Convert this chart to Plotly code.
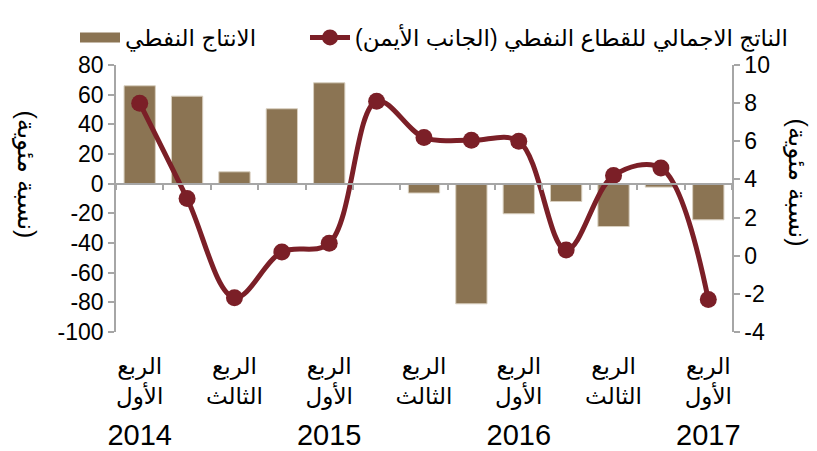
import plotly.graph_objects as go

quarters = list(range(13))
oil_production = [66, 59, 8, 50.5, 68, 0, -6.3, -81, -20.3, -12, -28.9, -2.3, -24.4]
oil_gdp = [8.0, 3.0, -2.2, 0.2, 0.65, 8.1, 6.2, 6.05, 6.0, 0.3, 4.2, 4.6, -2.3]

q_tickvals = [0, 2, 4, 6, 8, 10, 12]
q_ticktext = ["الربع<br>الأول", "الربع<br>الثالث", "الربع<br>الأول", "الربع<br>الثالث",
              "الربع<br>الأول", "الربع<br>الثالث", "الربع<br>الأول"]
year_tickvals = [0, 4, 8, 12]
year_ticktext = ["2014", "2015", "2016", "2017"]
boundary_vals = [i - 0.5 for i in range(14)]

left_vals = [80, 60, 40, 20, 0, -20, -40, -60, -80, -100]
right_vals = [10, 8, 6, 4, 2, 0, -2, -4]

name_bar = "الانتاج النفطي"
name_line = "الناتج الاجمالي للقطاع النفطي (الجانب الأيمن)"
axis_title = "(نسبة مئوية)"

BAR = "#8B7453"
LINE = "#7B1F27"
GRAY = "#A6A6A6"
FONT = "Liberation Sans, DejaVu Sans, Arial, sans-serif"

# the page body has an 8px default margin, so the figure is sized/placed to compensate
W, H = 809, 443
ML, MR, MT, MB = 108, 85, 57, 119
PW = W - ML - MR
PH = H - MT - MB

fig = go.Figure()
fig.add_trace(go.Bar(x=quarters, y=oil_production, name=name_bar, showlegend=False,
                     marker=dict(color=BAR, line=dict(color="#D8CFBF", width=1)),
                     width=0.66, yaxis="y", xaxis="x"))
# legend proxy for bars (wide swatch like the original)
fig.add_trace(go.Scatter(x=[None], y=[None], name=name_bar, mode="lines",
                         line=dict(color=BAR, width=12), yaxis="y", xaxis="x",
                         hoverinfo="skip", legend="legend"))
fig.add_trace(go.Scatter(x=quarters, y=oil_gdp, name=name_line, mode="lines+markers",
                         line=dict(color=LINE, width=5, shape="spline", smoothing=1.0),
                         marker=dict(color=LINE, size=17),
                         yaxis="y2", xaxis="x", legend="legend2"))
# helper invisible traces so that overlay axes render
fig.add_trace(go.Scatter(x=[0], y=[0], xaxis="x2", yaxis="y", mode="markers",
                         marker=dict(opacity=0), showlegend=False, hoverinfo="skip"))
fig.add_trace(go.Scatter(x=[0], y=[0], xaxis="x3", yaxis="y", mode="markers",
                         marker=dict(opacity=0), showlegend=False, hoverinfo="skip"))

legend_common = dict(orientation="h", xref="paper", yref="paper",
                     xanchor="left", yanchor="top",
                     font=dict(size=23, family=FONT), itemwidth=40,
                     bgcolor="rgba(0,0,0,0)")

fig.update_layout(
    template="none",
    width=W, height=H,
    margin=dict(l=ML, r=MR, t=MT, b=MB, autoexpand=False),
    plot_bgcolor="white", paper_bgcolor="white",
    font=dict(family=FONT, size=22, color="black"),
    showlegend=True,
    legend=dict(x=(67 - ML) / PW, y=1 + (MT - 8) / PH, **legend_common),
    legend2=dict(x=(297 - ML) / PW, y=1 + (MT - 8) / PH, **legend_common),
    xaxis=dict(range=[-0.5, 12.5], tickvals=q_tickvals, ticktext=q_ticktext,
               showgrid=False, zeroline=False, showline=False, automargin=False,
               ticks="outside", ticklen=13, tickcolor="rgba(0,0,0,0)",
               tickfont=dict(size=23), anchor="y"),
    xaxis2=dict(range=[-0.5, 12.5], overlaying="x", anchor="free",
                position=100 / 180, tickvals=boundary_vals, showticklabels=False,
                ticks="outside", ticklen=6, tickcolor=GRAY, tickwidth=1.5,
                showline=True, linecolor=GRAY, linewidth=1.5, automargin=False,
                showgrid=False, zeroline=False),
    xaxis3=dict(range=[-0.5, 12.5], overlaying="x", anchor="y", side="bottom",
                tickvals=year_tickvals, ticktext=year_ticktext, automargin=False,
                ticks="outside", ticklen=77, tickcolor="rgba(0,0,0,0)",
                tickfont=dict(size=29), showline=False, showgrid=False, zeroline=False),
    yaxis=dict(range=[-100, 80], tickvals=left_vals,
               ticktext=[str(v) for v in left_vals], automargin=False,
               showgrid=False, zeroline=False, showline=True, linecolor=GRAY, linewidth=1.5,
               ticks="outside", ticklen=6, tickcolor=GRAY, tickwidth=1.5,
               tickfont=dict(size=23)),
    yaxis2=dict(range=[-4, 10], tickvals=right_vals,
                ticktext=[str(v) for v in right_vals], automargin=False,
                overlaying="y", side="right", anchor="x",
                showgrid=False, zeroline=False, showline=True, linecolor=GRAY, linewidth=1.5,
                ticks="outside", ticklen=6, tickcolor=GRAY, tickwidth=1.5,
                tickfont=dict(size=23)),
    annotations=[
        dict(text=axis_title, xref="paper", yref="paper", x=-0.146, y=0.59,
             xanchor="center", yanchor="middle",
             textangle=90, showarrow=False, font=dict(size=25, family=FONT)),
        dict(text=axis_title, xref="paper", yref="paper", x=1.107, y=0.56,
             xanchor="center", yanchor="middle",
             textangle=90, showarrow=False, font=dict(size=25, family=FONT)),
    ],
)

fig.write_html("out.html")
